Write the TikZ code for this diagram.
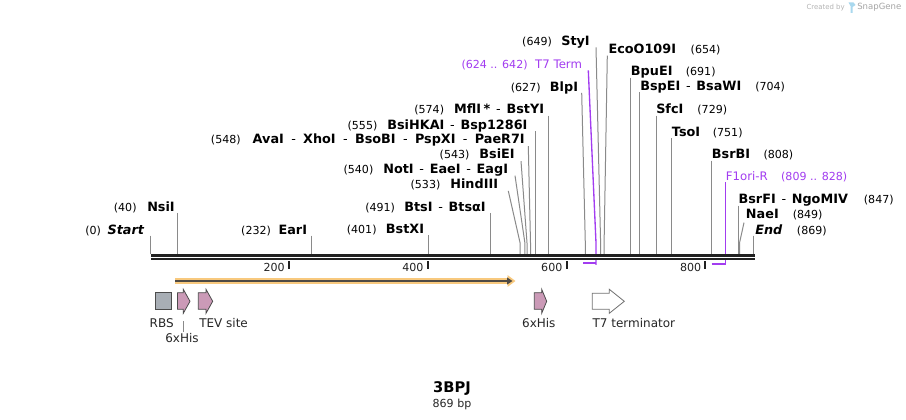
\documentclass[tikz,border=0pt]{standalone}
\usepackage{fontspec}
\setmainfont{DejaVu Sans}
\usepackage{tikz}
\usetikzlibrary{positioning, arrows.meta, calc}

\definecolor{cutgray}{HTML}{8A8A8A}
\definecolor{featpurple}{HTML}{A23CF0}
\definecolor{orfhaloc}{HTML}{F8C97E}
\definecolor{orfdark}{HTML}{4E4A44}
\definecolor{rbsgray}{HTML}{A8AEB5}
\definecolor{hispink}{HTML}{CB9AB7}
\definecolor{markgray}{HTML}{B4B4B4}
\definecolor{markblue}{HTML}{A9D8EE}

\newcommand{\bpnum}[1]{{\fontsize{8.3}{10}\selectfont(#1)}}
\newcommand{\enz}[1]{{\fontsize{9.6}{11}\selectfont\bfseries #1}}
\newcommand{\dsh}{\hspace{4.3pt}{\mdseries -}\hspace{4.3pt}}
\newcommand{\wdsh}{\hspace{5.5pt}{\mdseries -}\hspace{5.5pt}}

\begin{document}
\begin{tikzpicture}[
  x=0.75pt, y=-0.75pt,
  font=\fontsize{8.3}{10}\selectfont,
  lbl/.style={inner sep=0pt, text height=7pt, text depth=1pt, text=black},
  plbl/.style={lbl, text=featpurple},
  flbl/.style={inner sep=0pt, font=\fontsize{9}{11}\selectfont, text=black!85},
  cut/.style={draw=cutgray, line width=0.75pt},
  featline/.style={draw=featpurple, line width=1pt},
  featbar/.style={draw=featpurple, line width=1.5pt},
  backbone/.style={draw=black!87, line width=1.8pt, double=white, double distance=0.75pt},
  tick/.style={draw=black!87, line width=1.5pt},
  orfhalo/.style={draw=orfhaloc, line width=4.5pt, -{Triangle[length=6pt, width=8.5pt]}},
  orfline/.style={draw=orfdark, line width=1.5pt, -{Triangle[length=4pt, width=5pt]}},
  rbs/.style={fill=rbsgray, draw=black!70, line width=0.6pt},
  his/.style={fill=hispink, draw=black!70, line width=0.6pt},
  term/.style={fill=white, draw=black!55, line width=0.6pt}
]
\useasboundingbox (0,0) rectangle (906,420);
\fill[white] (0,0) rectangle (906,420);

% --- cut sites on the top strand ---
\coordinate (kink) at (0,243);
\coordinate (s0) at (150.7,254);
\coordinate (s40) at (177.8,254);
\coordinate (s232) at (311.1,254);
\coordinate (s401) at (428.4,254);
\coordinate (s491) at (490.9,254);
\coordinate (s533) at (520.1,254);
\coordinate (s540) at (524.9,254);
\coordinate (s543) at (527.0,254);
\coordinate (s548) at (530.5,254);
\coordinate (s555) at (535.3,254);
\coordinate (s574) at (548.5,254);
\coordinate (s627) at (585.3,254);
\coordinate (s649) at (600.6,254);
\coordinate (s654) at (604.1,254);
\coordinate (s691) at (630.2,254);
\coordinate (s704) at (639.2,254);
\coordinate (s729) at (656.1,254);
\coordinate (s751) at (671.4,254);
\coordinate (s808) at (711.0,254);
\coordinate (s847) at (738.1,254);
\coordinate (s849) at (739.5,254);
\coordinate (s869) at (753.8,254);

% --- labels left of their site ---
\node[lbl, anchor=east] (start) at (144.3,230) {\bpnum{0}\hspace{5pt}\enz{\itshape Start}};
\node[lbl, anchor=east] (nsiI) at (175,207.3) {\bpnum{40}\hspace{8pt}\enz{NsiI}};
\node[lbl, anchor=east] (earI) at (307.3,230) {\bpnum{232}\hspace{5.7pt}\enz{EarI}};
\node[lbl, anchor=east] (bstXI) at (424.3,229.5) {\bpnum{401}\hspace{7pt}\enz{BstXI}};
\node[lbl, anchor=east] (btsI) at (486,207.3) {\bpnum{491}\hspace{7pt}\enz{BtsI\dsh BtsαI}};
\node[lbl, anchor=east] (hindIII) at (498.3,184.3) {\bpnum{533}\hspace{7.5pt}\enz{HindIII}};
\node[lbl, anchor=east] (notI) at (508.3,170) {\bpnum{540}\hspace{7.5pt}\enz{NotI\dsh EaeI\dsh EagI}};
\node[lbl, anchor=east] (bsiEI) at (515,155) {\bpnum{543}\hspace{7.5pt}\enz{BsiEI}};
\node[lbl, anchor=east] (avaI) at (525,139.5) {\bpnum{548}\hspace{9pt}\enz{AvaI\wdsh XhoI\wdsh BsoBI\wdsh PspXI\wdsh PaeR7I}};
\node[lbl, anchor=east] (bsiHKAI) at (527.7,125.7) {\bpnum{555}\hspace{7.5pt}\enz{BsiHKAI\dsh Bsp1286I}};
\node[lbl, anchor=east] (mflI) at (544.3,110) {\bpnum{574}\hspace{7.5pt}\enz{MflI\hspace{2pt}*\dsh BstYI}};
\node[lbl, anchor=east] (blpI) at (578.3,87.3) {\bpnum{627}\hspace{7pt}\enz{BlpI}};
\node[plbl, anchor=east] (t7term) at (582.3,64.3) {\bpnum{624 .. 642}\hspace{5.7pt}{\fontsize{8.8}{10}\selectfont T7 Term}};
\node[lbl, anchor=east] (styI) at (590,41.7) {\bpnum{649}\hspace{7pt}\enz{StyI}};

% --- labels right of their site ---
\node[lbl, anchor=west] (ecoO109I) at (608.3,50) {\enz{EcoO109I}\hspace{11pt}\bpnum{654}};
\node[lbl, anchor=west] (bpuEI) at (630.7,72) {\enz{BpuEI}\hspace{10pt}\bpnum{691}};
\node[lbl, anchor=west] (bspEI) at (640,86.7) {\enz{BspEI\dsh BsaWI}\hspace{10.5pt}\bpnum{704}};
\node[lbl, anchor=west] (sfcI) at (656,110) {\enz{SfcI}\hspace{10.5pt}\bpnum{729}};
\node[lbl, anchor=west] (tsoI) at (671.7,132.7) {\enz{TsoI}\hspace{9.5pt}\bpnum{751}};
\node[lbl, anchor=west] (bsrBI) at (711.7,155) {\enz{BsrBI}\hspace{10pt}\bpnum{808}};
\node[plbl, anchor=west] (f1ori) at (725.7,176.7) {{\fontsize{8.8}{10}\selectfont F1ori-R}\hspace{10pt}\bpnum{809 .. 828}};
\node[lbl, anchor=west] (bsrFI) at (738.3,200) {\enz{BsrFI\dsh NgoMIV}\hspace{12pt}\bpnum{847}};
\node[lbl, anchor=west] (naeI) at (745.7,215) {\enz{NaeI}\hspace{10.5pt}\bpnum{849}};
\node[lbl, anchor=west] (end) at (755,230) {\enz{\itshape End}\hspace{11pt}\bpnum{869}};

% straight cut lines
\draw[cut] (s0 |- start.south) -- (s0);
\draw[cut] (s40 |- nsiI.south) -- (s40);
\draw[cut] (s232 |- earI.south) -- (s232);
\draw[cut] (s401 |- bstXI.south) -- (s401);
\draw[cut] (s491 |- btsI.south) -- (s491);
\draw[cut] (s555 |- bsiHKAI.south) -- (s555);
\draw[cut] (s574 |- mflI.south) -- (s574);
\draw[cut] (s691 |- bpuEI.south) -- (s691);
\draw[cut] (s704 |- bspEI.south) -- (s704);
\draw[cut] (s729 |- sfcI.south) -- (s729);
\draw[cut] (s751 |- tsoI.south) -- (s751);
\draw[cut] (s808 |- bsrBI.south) -- (s808);
\draw[cut] (s847 |- bsrFI.south) -- (s847);
\draw[cut] (s869 |- end.south) -- (s869);

% bent cut lines where labels are crowded
\draw[cut] ($(hindIII.south east)+(10,1)$) -- (s533 |- kink) -- (s533);
\draw[cut] ($(notI.south east)+(6.7,0)$) -- (s540 |- kink) -- (s540);
\draw[cut] ($(bsiEI.south east)+(6,0.5)$) -- (s543 |- kink) -- (s543);
\draw[cut] ($(avaI.south east)+(3.3,1)$) -- (s548 |- kink) -- (s548);
\draw[cut] ($(blpI.south east)+(3.4,0)$) -- (s627 |- kink) -- (s627);
\draw[cut] ($(styI.south east)+(6,0)$) -- (s649 |- kink) -- (s649);
\draw[cut] ($(ecoO109I.south west)+(-1,0)$) -- (s654 |- kink) -- (s654);
\draw[cut] ($(naeI.south west)+(-1.7,2)$) -- (s849 |- kink) -- (s849);

% --- primer / terminator marks ---
\coordinate (t7a) at (583.2,263.5);
\coordinate (t7b) at (596,263.5);
\coordinate (f1a) at (711.7,264);
\coordinate (f1b) at (725.3,264);
\draw[featline] ($(t7term.south east)+(6,0.5)$) -- (t7b |- kink) -- ($(t7b)+(0,1.5)$);
\draw[featbar] (t7a) -- (t7b);
\draw[featline] (f1b |- f1ori.south) -- ($(f1b)+(0,1.5)$);
\draw[featbar] (f1a) -- (f1b);

% --- backbone and ruler ---
\coordinate (bbL) at (150.5,257.2);
\coordinate (bbR) at (754.6,257.2);
\draw[backbone] (bbL) -- (bbR);
\coordinate (k200) at (288.9,261.5);
\coordinate (k400) at (427.7,261.5);
\coordinate (k600) at (566.6,261.5);
\coordinate (k800) at (705.4,261.5);
\draw[tick] (k200) -- ++(0,7.5);
\draw[tick] (k400) -- ++(0,7.5);
\draw[tick] (k600) -- ++(0,7.5);
\draw[tick] (k800) -- ++(0,7.5);
\node[inner sep=0pt, anchor=east, text=black!87] (n200) at ($(k200)+(-4,5.5)$) {200};
\node[inner sep=0pt, anchor=east, text=black!87] (n400) at ($(k400)+(-4,5.5)$) {400};
\node[inner sep=0pt, anchor=east, text=black!87] (n600) at ($(k600)+(-4,5.5)$) {600};
\node[inner sep=0pt, anchor=east, text=black!87] (n800) at ($(k800)+(-4,5.5)$) {800};

% --- ORF ---
\coordinate (orfA) at (175,281);
\coordinate (orfB) at (515.5,281);
\draw[orfhalo] (orfA) -- (orfB);
\draw[orfline] (orfA) -- ($(orfB)+(-3,0)$);

% --- features ---
\draw[rbs] (155,292.7) rectangle (171.7,309.3);
\draw[his] (177.5,292.7) -- (183.3,292.7) -- (183.3,289.3) -- (190,301.3) -- (183.3,313.3) -- (183.3,309.3) -- (177.5,309.3) -- cycle;
\draw[his] (198.3,292.7) -- (206,292.7) -- (206,289.3) -- (212.7,301.3) -- (206,313.3) -- (206,309.3) -- (198.3,309.3) -- cycle;
\draw[his] (534.3,292.7) -- (541.7,292.7) -- (541.7,289.3) -- (546.7,301.3) -- (541.7,313.3) -- (541.7,309.3) -- (534.3,309.3) -- cycle;
\draw[term] (592.3,293.3) -- (609.3,293.3) -- (609.3,289.3) -- (624.3,301.3) -- (609.3,313.3) -- (609.3,309.3) -- (592.3,309.3) -- cycle;

\node[flbl] (rbsL) at (161.7,322.7) {RBS};
\node[flbl] (hisAL) at (182,338.5) {6xHis};
\draw[cut, line width=0.6pt] (hisAL.north) ++(1.3,-2) -- ++(0,-10.5);
\node[flbl, anchor=west] (tevL) at (199,322.7) {TEV site};
\node[flbl] (hisBL) at (538.8,322.7) {6xHis};
\node[flbl, anchor=west] (t7L) at (592.3,322.7) {T7 terminator};

% --- title ---
\node[inner sep=0pt, font=\fontsize{11}{13}\selectfont\bfseries] (title) at (452,389) {3BPJ};
\node[inner sep=0pt, text=black!85] (len) at (452,404) {869 bp};

% --- watermark ---
\node[inner sep=0pt, anchor=east, text=markgray, font=\fontsize{5.2}{6}\selectfont] (made) at (845,7.5) {Created by};
\fill[markblue] (848.5,2.5) -- (853.5,2.5) -- (855.5,5) -- (852.5,7) -- (852.5,13) -- (850.5,13) -- (850.5,6) -- cycle;
\node[inner sep=0pt, anchor=west, text=markgray!120, font=\fontsize{6.4}{7}\selectfont] (brand) at (857,7.5) {SnapGene};
\end{tikzpicture}
\end{document}
